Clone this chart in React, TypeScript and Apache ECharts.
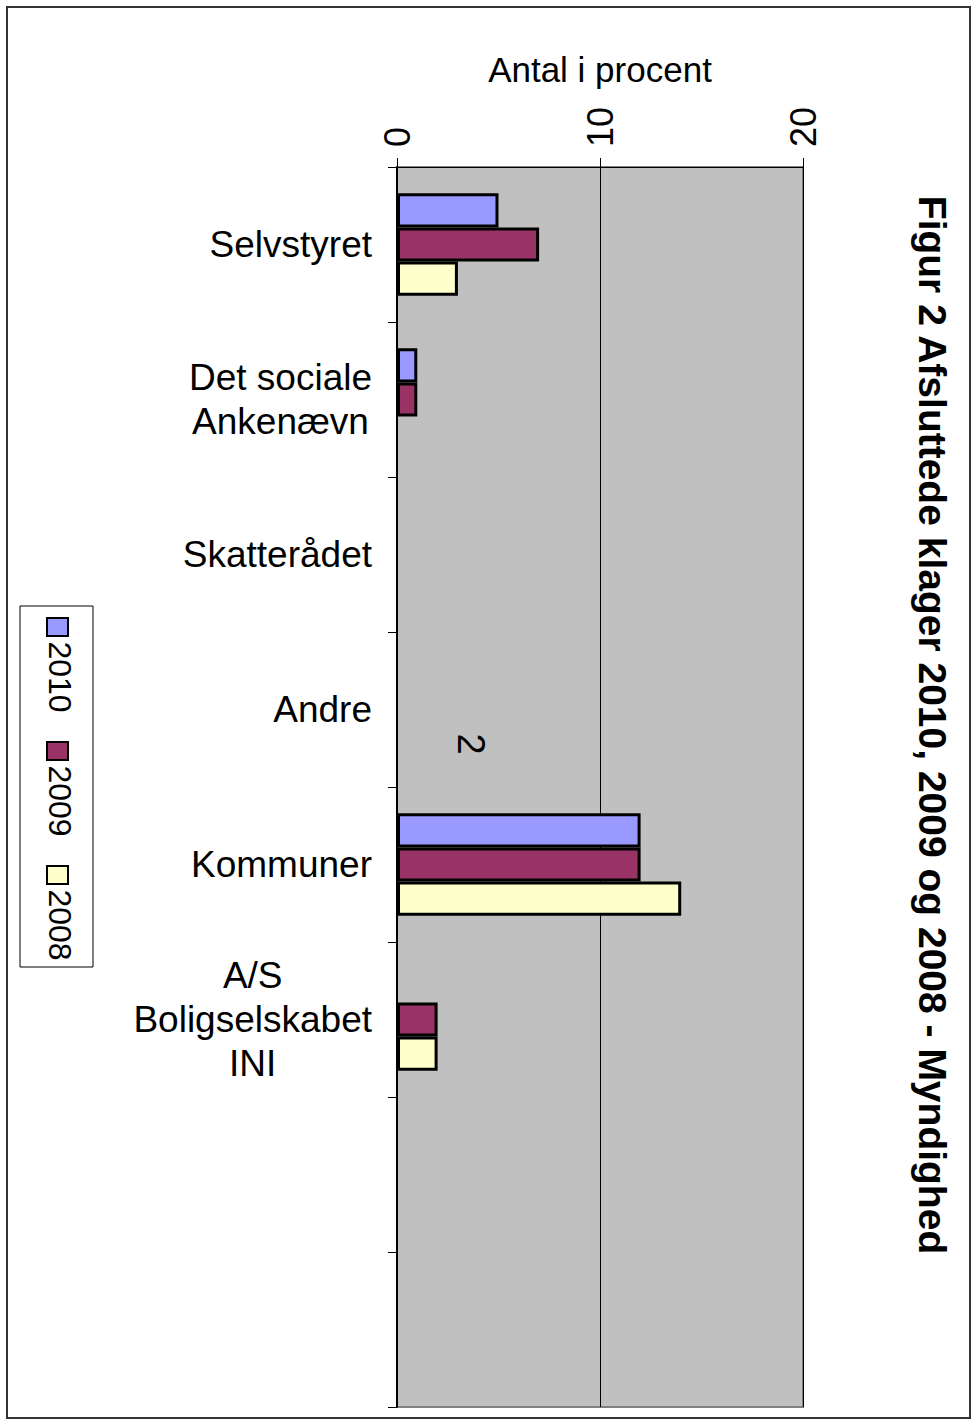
import React, { useEffect, useRef } from "react";
import * as echarts from "echarts";

const categories = [
  "Selvstyret",
  "Det sociale\nAnkenævn",
  "Skatterådet",
  "Andre",
  "Kommuner",
  "A/S\nBoligselskabet\nINI",
  "",
  "",
];
const seriesNames = ["2010", "2009", "2008"];
const values2010 = [5, 1, 0, 0, 12, 0, 0, 0];
const values2009 = [7, 1, 0, 0, 12, 2, 0, 0];
const values2008 = [3, 0, 0, 0, 14, 2, 0, 0];
const seriesColors = ["#9999FF", "#993366", "#FFFFCC"];
const valueTicks = { min: 0, max: 20, interval: 10 };
const titleText = "Figur 2 Afsluttede klager 2010, 2009 og 2008 - Myndighed";
const axisName = "Antal i procent";
const strayLabel = "2";

const FONT = "'Liberation Sans', Arial, sans-serif";

export default function App() {
  const ref = useRef<HTMLDivElement>(null);
  useEffect(() => {
    if (!ref.current) return;
    const chart = echarts.init(ref.current, null, { renderer: "svg" });
    const allValues = [values2010, values2009, values2008];

    const legendItems: any[] = [];
    const legendStarts = [618, 742, 866];
    seriesNames.forEach((name, i) => {
      const y0 = legendStarts[i];
      legendItems.push({
        type: "rect",
        shape: { x: 47, y: y0, width: 21, height: 18 },
        style: { fill: seriesColors[i], stroke: "#000", lineWidth: 2 },
      });
      legendItems.push({
        type: "text",
        x: 60,
        y: y0 + 24 + 35,
        rotation: -Math.PI / 2,
        style: {
          text: name,
          font: `32px ${FONT}`,
          fill: "#000",
          align: "center",
          verticalAlign: "middle",
          textAlign: "center",
          textVerticalAlign: "middle",
        },
      });
    });

    chart.setOption({
      animation: false,
      backgroundColor: "#fff",
      textStyle: { fontFamily: FONT },
      grid: {
        left: 397,
        top: 167,
        right: 174,
        bottom: 20,
        show: true,
        backgroundColor: "#C0C0C0",
        borderColor: "#808080",
        borderWidth: 2,
        containLabel: false,
      },
      xAxis: {
        type: "value",
        position: "top",
        min: valueTicks.min,
        max: valueTicks.max,
        interval: valueTicks.interval,
        name: axisName,
        nameLocation: "middle",
        nameGap: 80,
        nameTextStyle: { fontSize: 35, color: "#000", fontFamily: FONT },
        axisLine: { show: true, lineStyle: { color: "#000", width: 1 } },
        axisTick: { show: true, length: 9, lineStyle: { color: "#000" } },
        axisLabel: {
          rotate: -90,
          fontSize: 36,
          color: "#000",
          margin: 20,
          fontFamily: FONT,
        },
        splitLine: { show: true, lineStyle: { color: "#000", width: 1 } },
      },
      yAxis: {
        type: "category",
        inverse: true,
        data: categories,
        axisLine: { show: true, lineStyle: { color: "#000", width: 2 } },
        axisTick: {
          show: true,
          length: 9,
          interval: 0,
          alignWithLabel: false,
          lineStyle: { color: "#000" },
        },
        axisLabel: {
          interval: 0,
          margin: 25,
          color: "#000",
          fontSize: 37,
          lineHeight: 44,
          fontFamily: FONT,
          formatter: (v: string) =>
            v ? v.split("\n").map((l) => `{c|${l}}`).join("\n") : "",
          rich: {
            c: {
              align: "center",
              fontSize: 37,
              lineHeight: 44,
              color: "#000",
              fontFamily: FONT,
            },
          },
        },
        splitLine: { show: false },
      },
      series: allValues.map((vals, i) => ({
        type: "bar",
        name: seriesNames[i],
        data: vals.map((v) => (v === 0 ? null : v)),
        barGap: "0%",
        barCategoryGap: "34%",
        itemStyle: {
          color: seriesColors[i],
          borderColor: "#000",
          borderWidth: 3,
        },
      })),
      graphic: [
        {
          type: "rect",
          shape: { x: 7, y: 7, width: 963, height: 1411 },
          style: { fill: "none", stroke: "#333", lineWidth: 2 },
          z: 100,
        },
        {
          type: "text",
          x: 932,
          y: 725,
          rotation: -Math.PI / 2,
          style: {
            text: titleText,
            font: `bold 39px ${FONT}`,
            fill: "#000",
            align: "center",
            verticalAlign: "middle",
            textAlign: "center",
            textVerticalAlign: "middle",
          },
        },
        {
          type: "text",
          x: 471,
          y: 744,
          rotation: -Math.PI / 2,
          z: 100,
          style: {
            text: strayLabel,
            font: `38px ${FONT}`,
            fill: "#000",
            align: "center",
            verticalAlign: "middle",
            textAlign: "center",
            textVerticalAlign: "middle",
          },
        },
        {
          type: "rect",
          shape: { x: 20, y: 606, width: 73, height: 361 },
          style: { fill: "#fff", stroke: "#000", lineWidth: 1 },
        },
        ...legendItems,
      ],
    });
    return () => chart.dispose();
  }, []);
  return (
    <div
      ref={ref}
      style={{ position: "absolute", left: 0, top: 0, width: 977, height: 1427 }}
    />
  );
}
